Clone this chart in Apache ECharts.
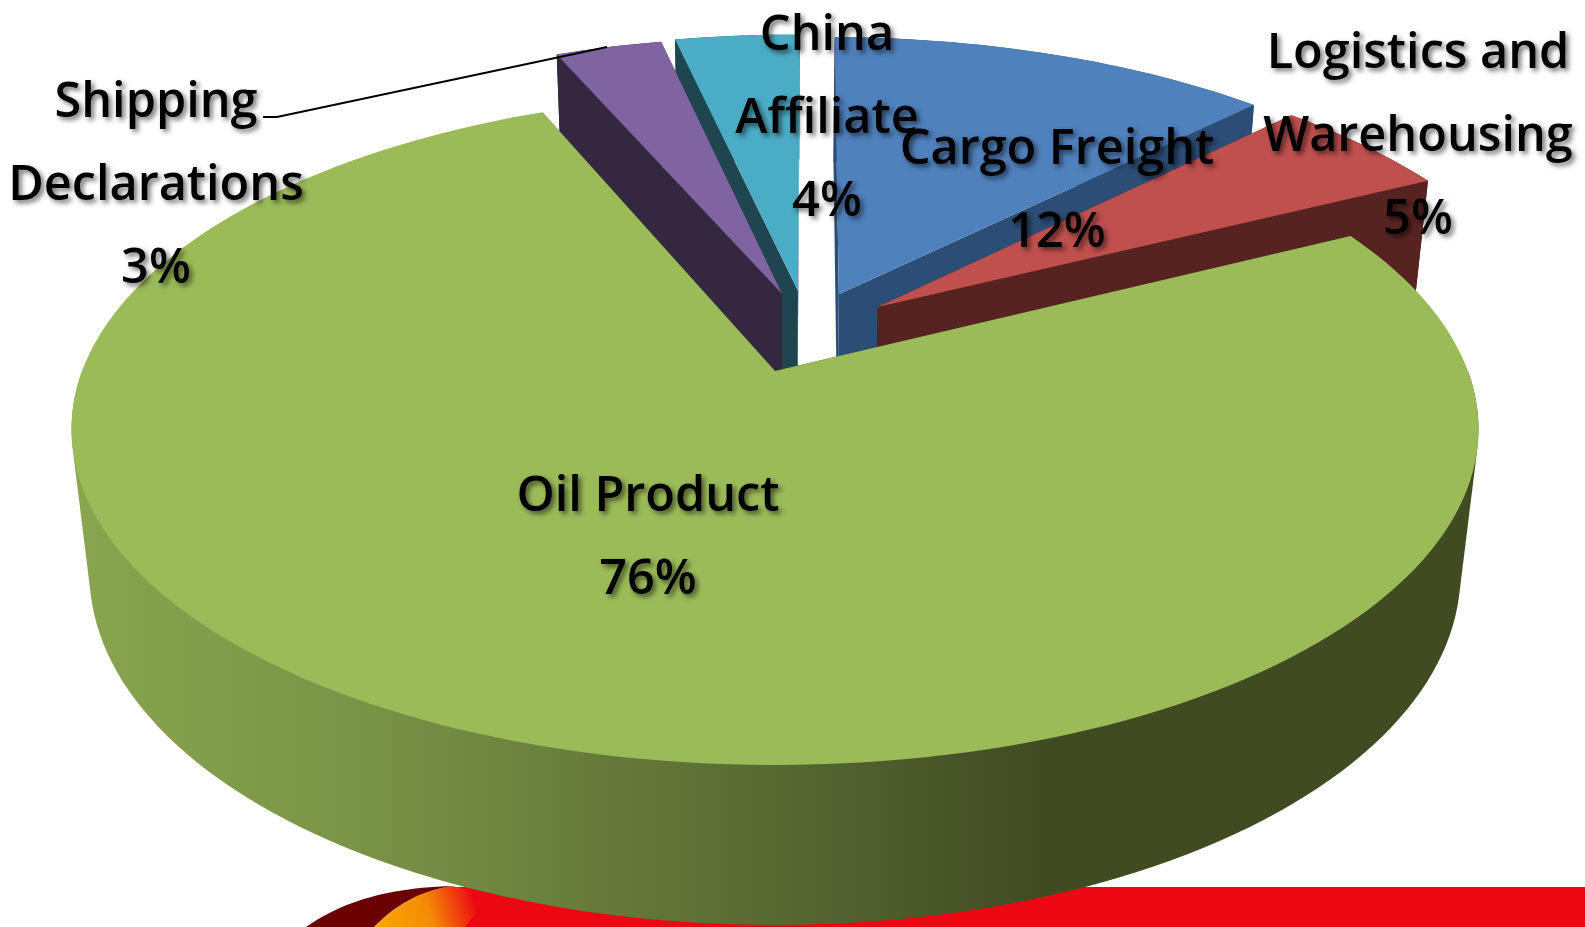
<!DOCTYPE html>
<html>
<head>
<meta charset="utf-8">
<style>html,body{margin:0;padding:0;background:#fff;overflow:hidden}#c{width:1585px;height:927px}</style>
<script src="https://cdn.jsdelivr.net/npm/echarts@6/dist/echarts.min.js"></script>
</head>
<body>
<div id="c"></div>
<script>
const categories = ['Cargo Freight', 'Logistics and\nWarehousing', 'Oil Product', 'Shipping\nDeclarations', 'China\nAffiliate'];
const shares = [12.4, 5.1, 76.0, 3.0, 3.5];
const topColors = ['#4F81BD', '#C0504D', '#9BBB59', '#8064A2', '#4BACC6'];
const wallColors = ['#2C4D75', '#572321', '#404B22', '#332840', '#1E4550'];
const paintOrder = [2, 3, 4, 1, 0];
const pull = [[0.096, -0.2454], [0.1533, -0.203], [0, 0], [0.0105, -0.247], [0.0346, -0.2569]];
const labelAt = [[1057, 192], [1418, 137], [648, 539], [156, 186], [827, 119]];

const cam = {cx: 775, cy: 371, A: 692.9, B: 325.8, C: 146.5, p: 0.173, q: 0.0255};
const startDeg = 0.5;
const FONT = '600 48.6px "Open Sans", sans-serif';

function project(u, v, z) {
  const w = 1 - cam.p * v + cam.q * z;
  return [cam.cx + cam.A * u / w, cam.cy + (cam.B * v + cam.C * z) / w];
}
function rimPoint(off, deg, z) {
  const t = deg * Math.PI / 180;
  return project(off[0] + Math.sin(t), off[1] - Math.cos(t), z);
}
function arc(off, a0, a1, z) {
  const pts = [], n = Math.max(4, Math.ceil(Math.abs(a1 - a0) / 1.5));
  for (let i = 0; i <= n; i++) pts.push(rimPoint(off, a0 + (a1 - a0) * i / n, z));
  return pts;
}
function hull(points) {
  const p = points.slice().sort((a, b) => a[0] - b[0] || a[1] - b[1]);
  const cross = (o, a, b) => (a[0]-o[0])*(b[1]-o[1]) - (a[1]-o[1])*(b[0]-o[0]);
  const build = list => {
    const out = [];
    list.forEach(pt => {
      while (out.length > 1 && cross(out[out.length-2], out[out.length-1], pt) <= 0) out.pop();
      out.push(pt);
    });
    out.pop();
    return out;
  };
  return build(p).concat(build(p.slice().reverse()));
}
function bez(p0, p1, p2, p3) {
  const out = [];
  for (let i = 0; i <= 24; i++) {
    const t = i / 24, s = 1 - t;
    out.push([0, 1].map(k => s*s*s*p0[k] + 3*s*s*t*p1[k] + 3*s*t*t*p2[k] + t*t*t*p3[k]));
  }
  return out;
}
const total = shares.reduce((a, b) => a + b, 0);
const spans = [];
shares.reduce((acc, s) => { const next = acc + s / total * 360; spans.push([acc, next]); return next; }, startDeg);

const sideGradient = {
  type: 'linear', x: 71, y: 0, x2: 1478, y2: 0, global: true,
  colorStops: [
    {offset: 0, color: '#89A54E'}, {offset: 0.2, color: '#7A9447'},
    {offset: 0.48, color: '#5A6C33'}, {offset: 0.69, color: '#404B22'}, {offset: 1, color: '#404B22'}
  ]
};

function renderItem(params) {
  const i = params.dataIndex, off = pull[i], [a0, a1] = spans[i], base = paintOrder[i] * 10;
  const apexT = project(off[0], off[1], 0), apexB = project(off[0], off[1], 1);
  const poly = (points, fill, z) => ({
    type: 'polygon', z2: base + z, shape: {points},
    style: {fill, stroke: null}, silent: true
  });
  const topArc = arc(off, a0, a1, 0), botArc = arc(off, a0, a1, 1);
  // The outer side is the sweep of the rim between top and bottom; only its front half can be seen.
  const fa0 = Math.max(a0, 90), fa1 = Math.min(a1, 270);
  const side = fa1 > fa0
    ? hull(arc(off, fa0, fa1, 0).concat(arc(off, fa0, fa1, 1)))
    : topArc.concat(botArc.slice().reverse());
  const kids = [
    poly(side, i === 2 ? sideGradient : wallColors[i], 1),
    poly([apexT, topArc[0], botArc[0], apexB], wallColors[i], 2),
    poly([apexT, topArc[topArc.length - 1], botArc[botArc.length - 1], apexB], wallColors[i], 3),
    poly([apexT].concat(topArc), topColors[i], 4),
    {
      type: 'text', z2: 100, silent: true,
      style: {
        text: categories[i] + '\n' + Math.round(shares[i]) + '%',
        x: labelAt[i][0], y: labelAt[i][1], align: 'center', verticalAlign: 'middle',
        font: FONT, lineHeight: 83, fill: '#000',
        textShadowColor: 'rgba(0,0,0,0.55)', textShadowBlur: 5, textShadowOffsetX: 3, textShadowOffsetY: 3
      }
    }
  ];
  if (i === 3) {
    kids.push({
      type: 'polyline', z2: 90, silent: true,
      shape: {points: [[263, 117], [277, 117], [607, 47]]},
      style: {stroke: '#000', lineWidth: 1.8, fill: null}
    });
  }
  return {type: 'group', children: kids};
}

const chart = echarts.init(document.getElementById('c'), null, {renderer: 'canvas'});
chart.setOption({
  animation: false,
  backgroundColor: '#fff',
  graphic: [
    {type: 'rect', z: 0, silent: true, shape: {x: 452, y: 887, width: 1133, height: 40}, style: {fill: '#EC0812'}},
    {type: 'polygon', z: 1, silent: true,
     shape: {points: bez([374, 927], [395, 905], [420, 891], [452, 886]).concat([[490, 895], [465, 927]])},
     style: {fill: {type: 'linear', x: 385, y: 927, x2: 475, y2: 900, global: true,
       colorStops: [{offset: 0, color: '#F7A400'}, {offset: 0.5, color: '#F58A06'}, {offset: 1, color: '#EC0812'}]}}},
    {type: 'polygon', z: 1, silent: true,
     shape: {points: bez([306, 927], [345, 900], [390, 888], [452, 886]).concat(bez([452, 886], [420, 891], [395, 905], [374, 927]))},
     style: {fill: '#6B0000'}}
  ],
  series: [{
    type: 'custom', coordinateSystem: 'none', z: 10, clip: false,
    renderItem,
    data: categories.map((name, i) => ({name, value: shares[i]}))
  }]
});
</script>
</body>
</html>
